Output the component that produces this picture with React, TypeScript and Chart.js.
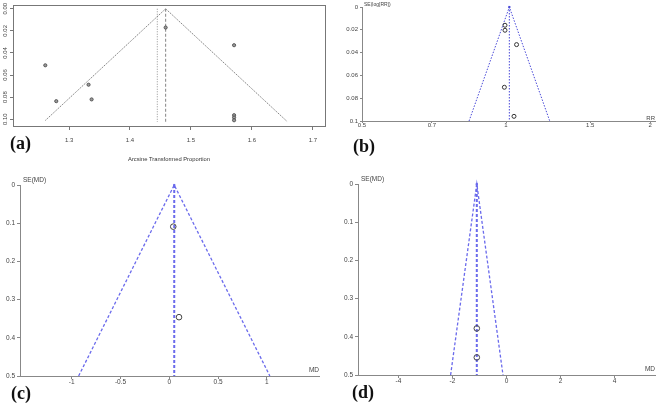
import React, { useEffect, useRef } from "react";
import { Chart, registerables } from "chart.js";
Chart.register(...registerables);

// ---------- (a) arcsine transformed proportion funnel ----------
const aStudyX = [1.261, 1.279, 1.332, 1.337, 1.4585, 1.5708, 1.5708, 1.5708, 1.5708];
const aStudySE = [0.0512, 0.0837, 0.0688, 0.0821, 0.017, 0.033, 0.0964, 0.0985, 0.101];
const aFunnelX = [1.261, 1.4585, 1.658];
const aFunnelSE = [0.1012, 0, 0.1022];
const aFixedX = 1.4585;
const aRandomX = 1.4448;
const aLineSE = [0, 0.1025];
const aXTicks = [1.3, 1.4, 1.5, 1.6, 1.7];
const aYTicks = [0, 0.02, 0.04, 0.06, 0.08, 0.1];
const aXTitle = "Arcsine Transformed Proportion";

// ---------- (b) RR funnel ----------
const bStudyRR = [0.995, 0.995, 1.052, 0.992, 1.039];
const bStudySE = [0.016, 0.0204, 0.033, 0.0704, 0.0959];
const bFunnelRR = [0.837, 1.016, 1.234];
const bFunnelSE = [0.1, 0, 0.1];
const bPooledRR = 1.016;
const bLineSE = [0, 0.1];
const bXTicks = [0.5, 0.7, 1, 1.5, 2];
const bYTicks = [0, 0.02, 0.04, 0.06, 0.08, 0.1];

// ---------- (c) MD funnel ----------
const cStudyMD = [0.041, 0.1];
const cStudySE = [0.109, 0.346];
const cFunnelMD = [-0.929, 0.051, 1.031];
const cFunnelSE = [0.5, 0, 0.5];
const cPooledMD = 0.051;
const cLineSE = [0, 0.5];
const cXTicks = [-1, -0.5, 0, 0.5, 1];
const cYTicks = [0, 0.1, 0.2, 0.3, 0.4, 0.5];

// ---------- (d) MD funnel ----------
const dStudyMD = [-1.1, -1.1];
const dStudySE = [0.378, 0.454];
const dFunnelMD = [-2.07, -1.1, -0.13];
const dFunnelSE = [0.5, 0, 0.5];
const dPooledMD = -1.1;
const dLineSE = [0, 0.5];
const dXTicks = [-4, -2, 0, 2, 4];
const dYTicks = [0, 0.1, 0.2, 0.3, 0.4, 0.5];

type Area = { l: number; t: number; r: number; b: number };

const pts = (xs: number[], ys: number[]) => xs.map((x, i) => ({ x, y: ys[i] }));
const vline = (x: number, ys: number[]) => ys.map((y) => ({ x, y }));

const fixScale = (size: number, vertical: boolean) => (s: any) => {
  if (vertical) s.width = size;
  else s.height = size;
  s.paddingLeft = 0;
  s.paddingRight = 0;
  s.paddingTop = 0;
  s.paddingBottom = 0;
};
const useTicks = (vals: number[]) => (s: any) => {
  s.ticks = vals.map((v) => ({ value: v }));
};

const SANS = "'Liberation Sans', Arial, sans-serif";

type TextItem = {
  text: string;
  hx: "left" | "right";
  dx: number;
  vy: "top" | "bottom";
  dy: number;
  align: CanvasTextAlign;
  font: string;
  color: string;
};

const textPlugin = (items: TextItem[], boxColor?: string) => ({
  id: "panelText",
  afterDraw(chart: any) {
    const { ctx, chartArea: a } = chart;
    ctx.save();
    if (boxColor) {
      ctx.strokeStyle = boxColor;
      ctx.lineWidth = 1;
      ctx.strokeRect(Math.round(a.left) + 0.5, Math.round(a.top) + 0.5, Math.round(a.right - a.left), Math.round(a.bottom - a.top));
    }
    for (const it of items) {
      ctx.font = it.font;
      ctx.fillStyle = it.color;
      ctx.textAlign = it.align;
      ctx.textBaseline = "middle";
      const x = (it.hx === "left" ? a.left : a.right) + it.dx;
      const y = (it.vy === "top" ? a.top : a.bottom) + it.dy;
      ctx.fillText(it.text, x, y);
    }
    ctx.restore();
  },
});

type AxisOpt = {
  type?: string;
  min: number;
  max: number;
  ticks: number[];
  fmt: (v: number) => string;
  font: any;
  color: string;
  pad: number;
  tl: number;
  tickColor: string;
  border: boolean;
  reverse?: boolean;
  rot?: number;
  crossAlign?: string;
  title?: any;
};

function makeScale(o: AxisOpt, size: number, vertical: boolean) {
  return {
    type: o.type || "linear",
    position: vertical ? "left" : "bottom",
    bounds: "data",
    min: o.min,
    max: o.max,
    reverse: !!o.reverse,
    afterBuildTicks: useTicks(o.ticks),
    afterFit: fixScale(size, vertical),
    ticks: {
      autoSkip: false,
      minRotation: o.rot || 0,
      maxRotation: o.rot || 0,
      crossAlign: o.crossAlign || "near",
      padding: o.pad,
      color: o.color,
      font: o.font,
      callback: (v: any) => o.fmt(Number(v)),
    },
    grid: {
      display: true,
      drawOnChartArea: false,
      drawTicks: true,
      tickLength: o.tl,
      tickColor: o.tickColor,
      color: o.tickColor,
      tickWidth: 1,
    },
    border: { display: o.border, color: o.tickColor, width: 1 },
    title: o.title || { display: false },
  };
}

function buildChart(
  canvas: HTMLCanvasElement,
  W: number,
  H: number,
  area: Area,
  xo: AxisOpt,
  yo: AxisOpt,
  datasets: any[],
  plugins: any[]
) {
  return new Chart(canvas, {
    type: "scatter",
    data: { datasets },
    options: {
      responsive: false,
      animation: false,
      devicePixelRatio: 1,
      layout: { padding: { left: 0, top: area.t, right: W - area.r, bottom: 0 } },
      plugins: { legend: { display: false }, tooltip: { enabled: false } },
      scales: {
        x: makeScale(xo, H - area.b, false),
        y: makeScale(yo, area.l, true),
      },
    } as any,
    plugins,
  });
}

const lineDs = (data: any[], color: string, width: number, dash: number[], apex = 0) => ({
  data,
  showLine: true,
  borderColor: color,
  backgroundColor: color,
  borderWidth: width,
  borderDash: dash,
  pointRadius: apex ? data.map((_: any, i: number) => (i === 1 ? apex : 0)) : 0,
  pointStyle: "rect",
  pointBorderWidth: 0,
  clip: false,
  tension: 0,
});

const pointDs = (data: any[], r: number, fill: string, stroke: string, bw: number) => ({
  data,
  showLine: false,
  pointRadius: r,
  pointBackgroundColor: fill,
  pointBorderColor: stroke,
  pointBorderWidth: bw,
  clip: false,
});

// ---------- builders ----------
function buildA(cv: HTMLCanvasElement) {
  const W = 330, H = 170;
  const area = { l: 13, t: 3, r: 325, b: 126 };
  const tickFont = { family: SANS, size: 6, lineHeight: 1.2 };
  const gray = "#777";
  const xo: AxisOpt = {
    min: 1.208, max: 1.72, ticks: aXTicks, fmt: (v) => v.toFixed(1),
    font: tickFont, color: "#444", pad: 6.4, tl: 4, tickColor: gray, border: false,
    title: { display: true, text: aXTitle, color: "#333", font: { family: SANS, size: 5.8, lineHeight: 1.2 }, padding: { top: 0, bottom: 7.5 } },
  };
  const yo: AxisOpt = {
    min: -0.0036, max: 0.1062, reverse: true, ticks: aYTicks, fmt: (v) => v.toFixed(2),
    font: tickFont, color: "#444", pad: -0.9, tl: 3, tickColor: gray, border: false, rot: 90, crossAlign: "center",
  };
  const ds = [
    pointDs(pts(aStudyX, aStudySE), 1.6, "#9a9a9a", "#444", 0.8),
    lineDs(pts(aFunnelX, aFunnelSE), "#666", 0.8, [1.5, 1]),
    lineDs(vline(aFixedX, aLineSE), "#666", 0.8, [3, 2]),
    lineDs(vline(aRandomX, aLineSE), "#777", 0.8, [1, 1.5]),
  ];
  return buildChart(cv, W, H, area, xo, yo, ds, [textPlugin([], gray)]);
}

function buildB(cv: HTMLCanvasElement) {
  const W = 330, H = 170;
  const area = { l: 32, t: 7, r: 327, b: 121 };
  const f = { family: SANS, size: 6, lineHeight: 1.2 };
  const ax = "#888";
  const xo: AxisOpt = {
    type: "logarithmic", min: 0.5, max: 2.048, ticks: bXTicks, fmt: (v) => String(v),
    font: f, color: "#444", pad: -1, tl: 2, tickColor: ax, border: true,
  };
  const yo: AxisOpt = {
    min: 0, max: 0.1, reverse: true, ticks: bYTicks, fmt: (v) => String(v),
    font: f, color: "#444", pad: 2, tl: 2, tickColor: ax, border: true,
  };
  const blue = "#4a4ad8";
  const ds = [
    pointDs(pts(bStudyRR, bStudySE), 2, "rgba(0,0,0,0)", "#333", 1),
    lineDs(pts(bFunnelRR, bFunnelSE), blue, 1, [1.5, 1.5], 1.5),
    lineDs(vline(bPooledRR, bLineSE), blue, 1, [1.5, 1.5]),
  ];
  const texts: TextItem[] = [
    { text: "SE(log[RR])", hx: "left", dx: 2, vy: "top", dy: -2, align: "left", font: `5px ${SANS}`, color: "#444" },
    { text: "RR", hx: "right", dx: 0, vy: "bottom", dy: -3, align: "right", font: `6px ${SANS}`, color: "#444" },
  ];
  return buildChart(cv, W, H, area, xo, yo, ds, [textPlugin(texts)]);
}

function buildMD(
  cv: HTMLCanvasElement,
  area: Area,
  xmin: number,
  xmax: number,
  xt: number[],
  yt: number[],
  sx: number[],
  sy: number[],
  fx: number[],
  fy: number[],
  pooled: number,
  lineSE: number[]
) {
  const W = 330, H = 234;
  const f = { family: SANS, size: 6.5, lineHeight: 1.2 };
  const ax = "#888";
  const xo: AxisOpt = {
    min: xmin, max: xmax, ticks: xt, fmt: (v) => String(v),
    font: f, color: "#444", pad: -1, tl: 3, tickColor: ax, border: true,
  };
  const yo: AxisOpt = {
    min: 0, max: 0.5, reverse: true, ticks: yt, fmt: (v) => String(v),
    font: f, color: "#444", pad: 2, tl: 3, tickColor: ax, border: true,
  };
  const blue = "#6a6aec";
  const ds = [
    pointDs(pts(sx, sy), 2.8, "rgba(0,0,0,0)", "#444", 1),
    lineDs(pts(fx, fy), blue, 1.3, [3, 2], 1.5),
    lineDs(vline(pooled, lineSE), blue, 2, [3, 2]),
  ];
  const texts: TextItem[] = [
    { text: "SE(MD)", hx: "left", dx: 3, vy: "top", dy: -5, align: "left", font: `6.5px ${SANS}`, color: "#444" },
    { text: "MD", hx: "right", dx: 0, vy: "bottom", dy: -6, align: "right", font: `6.5px ${SANS}`, color: "#444" },
  ];
  return buildChart(cv, W, H, area, xo, yo, ds, [textPlugin(texts)]);
}

const buildC = (cv: HTMLCanvasElement) =>
  buildMD(cv, { l: 20, t: 15, r: 319, b: 206 }, -1.53, 1.535, cXTicks, cYTicks, cStudyMD, cStudySE, cFunnelMD, cFunnelSE, cPooledMD, cLineSE);
const buildD = (cv: HTMLCanvasElement) =>
  buildMD(cv, { l: 28, t: 14, r: 327, b: 205 }, -5.5, 5.5, dXTicks, dYTicks, dStudyMD, dStudySE, dFunnelMD, dFunnelSE, dPooledMD, dLineSE);

function Panel(props: { left: number; top: number; width: number; height: number; build: (c: HTMLCanvasElement) => Chart }) {
  const ref = useRef<HTMLCanvasElement>(null);
  useEffect(() => {
    const chart = props.build(ref.current as HTMLCanvasElement);
    return () => chart.destroy();
  }, []);
  return (
    <canvas
      ref={ref}
      width={props.width}
      height={props.height}
      style={{ position: "absolute", left: props.left, top: props.top, width: props.width, height: props.height }}
    />
  );
}

const tagStyle = (left: number, top: number): React.CSSProperties => ({
  position: "absolute",
  left,
  top,
  fontFamily: "'Liberation Serif', 'Times New Roman', serif",
  fontWeight: "bold",
  fontSize: 18,
  lineHeight: "18px",
  color: "#111",
});

export default function App() {
  return (
    <div style={{ position: "absolute", left: 0, top: 0, width: 660, height: 404, background: "#fff", overflow: "hidden" }}>
      <Panel left={0} top={0} width={330} height={170} build={buildA} />
      <Panel left={330} top={0} width={330} height={170} build={buildB} />
      <Panel left={0} top={170} width={330} height={234} build={buildC} />
      <Panel left={330} top={170} width={330} height={234} build={buildD} />
      <div style={tagStyle(10, 134)}>(a)</div>
      <div style={tagStyle(353, 137)}>(b)</div>
      <div style={tagStyle(11, 384)}>(c)</div>
      <div style={tagStyle(352, 383)}>(d)</div>
    </div>
  );
}
